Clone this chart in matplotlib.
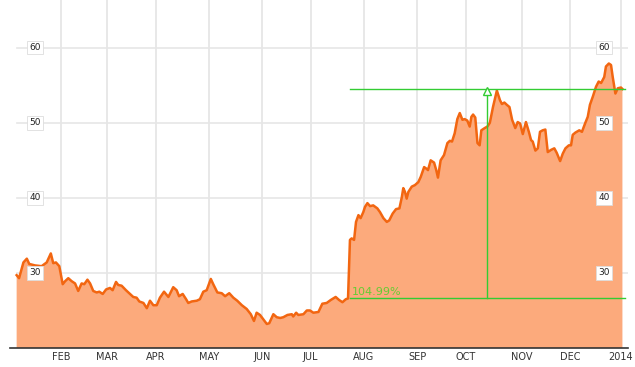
import matplotlib
matplotlib.use("Agg")
import matplotlib.pyplot as plt

# trading-day index (0 = first trading day of 2013) and closing price
day = [1.7, 2.7, 4.5, 5.9, 6.9, 9.3, 12.0, 14.1, 15.8, 16.8, 17.9, 19.3, 20.7, 21.7, 23.0,
       24.4, 25.8, 27.1, 28.5, 29.6, 30.9, 32.0, 33.3, 34.7, 35.8, 37.2, 38.6, 40.2, 41.3,
       42.7, 43.6, 45.0, 46.8, 48.5, 49.8, 51.2, 52.3, 54.0, 55.4, 56.7, 58.1, 59.5, 60.8,
       62.5, 64.3, 66.3, 67.7, 68.7, 70.2, 71.6, 72.5, 73.9, 76.0, 77.3, 78.7, 80.1, 81.8,
       82.8, 84.5, 86.3, 87.7, 89.4, 91.1, 92.7, 94.6, 96.6, 98.3, 99.6, 100.7, 102.1, 103.5,
       104.9, 105.9, 107.6, 109.0, 110.4, 111.7, 113.4, 115.2, 115.8, 117.0, 117.9, 120.0,
       121.4, 122.7, 124.1, 126.2, 127.8, 129.6, 131.3, 133.3, 134.7, 136.1, 137.5, 138.4,
       139.2, 139.9, 140.9, 141.7, 142.7, 143.6, 144.7, 145.4, 146.4, 147.5, 148.8, 150.5,
       151.6, 153.0, 154.4, 155.4, 156.8, 158.2, 159.6, 160.6, 161.2, 161.9, 162.6, 163.3,
       164.7, 166.0, 167.4, 168.4, 169.8, 170.7, 171.4, 172.5, 173.9, 174.8, 175.5, 176.6,
       178.0, 179.4, 180.4, 181.3, 182.4, 183.5, 184.5, 185.6, 186.5, 187.6, 188.6, 189.3,
       190.0, 190.9, 191.8, 192.7, 193.4, 194.8, 195.9, 196.9, 198.2, 199.2, 199.8, 201.1,
       201.9, 202.9, 203.9, 205.0, 206.1, 207.4, 208.4, 209.4, 210.5, 211.8, 213.0, 213.9,
       214.6, 215.7, 216.7, 217.6, 218.7, 219.8, 220.8, 222.2, 223.5, 224.5, 225.9, 227.0,
       228.1, 229.5, 230.4, 231.1, 232.2, 233.8, 234.9, 236.3, 237.3, 238.2, 239.4, 240.7,
       241.8, 242.8, 244.1, 244.8, 246.0, 246.9, 247.6, 248.7, 249.7, 251.0, 251.6]
price = [29.7, 29.3, 31.4, 31.9, 31.2, 31.0, 30.9, 31.4, 32.6, 31.3, 31.4, 30.9, 28.5, 28.9, 29.3,
         28.9, 28.6, 27.6, 28.6, 28.5, 29.1, 28.6, 27.6, 27.4, 27.5, 27.2, 27.8, 28.0, 27.7,
         28.8, 28.4, 28.3, 27.7, 27.2, 26.8, 26.7, 26.2, 26.0, 25.3, 26.3, 25.7, 25.7, 26.7,
         27.5, 26.8, 28.1, 27.7, 26.9, 27.2, 26.5, 26.0, 26.2, 26.3, 26.5, 27.5, 27.7, 29.2,
         28.5, 27.4, 27.3, 26.9, 27.3, 26.7, 26.3, 25.7, 25.2, 24.5, 23.6, 24.7, 24.4, 23.8,
         23.2, 23.3, 24.5, 24.1, 24.0, 24.1, 24.4, 24.5, 24.2, 24.7, 24.4, 24.5,
         25.0, 25.0, 24.7, 24.8, 25.9, 26.0, 26.4, 26.8, 26.4, 26.1, 26.5, 26.6,
         34.4, 34.6, 34.4, 36.8, 37.7, 37.3, 38.1, 38.8, 39.3, 38.9, 39.0, 38.6,
         38.1, 37.3, 36.8, 37.0, 37.9, 38.5, 38.6, 40.1, 41.3, 40.8, 39.9, 40.8,
         41.5, 41.7, 42.1, 42.8, 44.1, 43.9, 43.7, 45.0, 44.7, 43.7, 42.7, 45.0,
         45.7, 47.3, 47.6, 47.5, 48.6, 50.5, 51.3, 50.4, 50.5, 50.3, 49.5, 50.8,
         51.1, 50.7, 47.3, 47.0, 49.0, 49.3, 49.5, 50.0, 52.1, 53.5, 54.3, 53.0,
         52.5, 52.7, 52.4, 52.1, 50.4, 49.3, 50.1, 49.9, 48.5, 50.1, 48.8, 47.7,
         47.5, 46.3, 46.6, 48.8, 49.0, 49.1, 46.1, 46.4, 46.6, 46.0, 44.9, 45.9,
         46.6, 47.0, 47.0, 48.4, 48.7, 49.0, 48.8, 50.0, 50.8, 52.4, 53.5, 54.8,
         55.5, 55.3, 56.1, 57.5, 57.9, 57.7, 56.1, 53.9, 54.6, 54.7, 54.5]

month_labels = ["FEB", "MAR", "APR", "MAY", "JUN", "JUL", "AUG", "SEP", "OCT", "NOV", "DEC", "2014"]
month_start = [20, 39, 59, 81, 103, 123, 145, 167, 187, 210, 230, 251]
y_ticks = [30, 40, 50, 60]

base_day, base_price = 139.2, 26.6
peak_day = 195.9
change_pct = 104.99
measure_end = 252.7

fig = plt.figure(figsize=(6.35, 3.67), dpi=100)
ax = fig.add_axes([10 / 635, 19 / 367, 618 / 635, 348 / 367])
ax.set_xlim(-1.04, 253.9)
ax.set_ylim(20, 66.36)

grid_c = "#e6e6e6"
for m in month_start:
    ax.axvline(m, color=grid_c, lw=1.3, zorder=0)
for t in y_ticks:
    ax.axhline(t, xmin=7 / 618, xmax=1, color=grid_c, lw=1.2, zorder=0)

ax.fill_between(day, price, 0, color="#fcaa7c", lw=0, zorder=1)
ax.plot(day, price, color="#f26611", lw=1.8, zorder=2, solid_joinstyle="round")

# measurement overlay
top_price = base_price * (1 + change_pct / 100)
green = "#33cc33"
ax.plot([base_day, measure_end], [base_price, base_price], color=green, lw=1, zorder=3)
ax.plot([base_day, measure_end], [top_price, top_price], color=green, lw=1, zorder=3)
ax.plot([peak_day, peak_day], [base_price, top_price], color=green, lw=1, zorder=3)
ax.plot([peak_day], [top_price - 0.33], marker="^", markersize=6, markerfacecolor="white",
        markeredgecolor=green, markeredgewidth=1, zorder=4)
ax.text(base_day + 0.9, base_price + 0.2, f"{change_pct:.2f}%", color="#66cc33",
        fontsize=8, ha="left", va="bottom", zorder=4)

# y labels in boxes on both sides
box = dict(boxstyle="square,pad=0.25", facecolor="white", edgecolor="#dddddd", lw=0.6)
for t in y_ticks:
    ax.text(9.2, t, str(t), fontsize=6.5, ha="center", va="center", color="#222222",
            bbox=box, zorder=5)
    ax.text(244.0, t, str(t), fontsize=6.5, ha="center", va="center", color="#222222",
            bbox=box, zorder=5)

ax.set_xticks(month_start)
ax.set_xticklabels(month_labels, fontsize=7, color="#333333")
ax.tick_params(axis="x", length=0, pad=3)
ax.set_yticks([])
for s in ["top", "left", "right"]:
    ax.spines[s].set_visible(False)
ax.spines["bottom"].set_color("#333333")
ax.spines["bottom"].set_linewidth(1.2)
ax.patch.set_alpha(0)

fig.savefig("out.png", dpi=100)
